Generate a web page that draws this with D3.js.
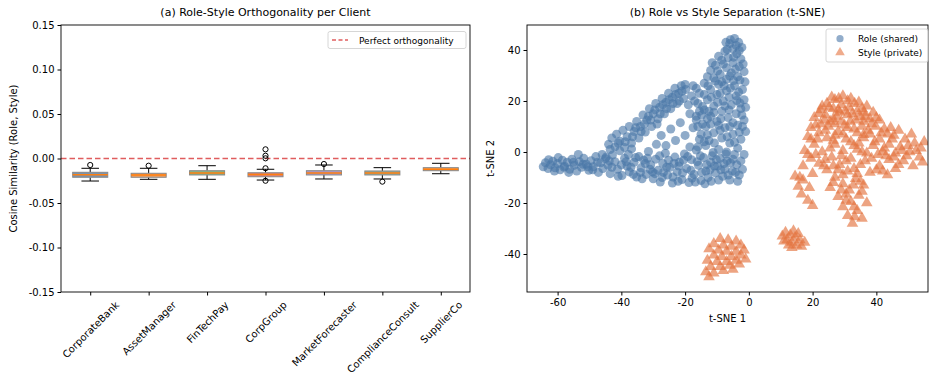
<!DOCTYPE html>
<html><head><meta charset="utf-8">
<script src="https://cdn.jsdelivr.net/npm/d3@7"></script>
<style>body{margin:0;background:#fff}svg{font-family:"DejaVu Sans",sans-serif}</style>
</head><body><svg id="c" width="933" height="381"></svg>
<script>
// ---------- Data: panel (a) ----------
const clients = ["CorporateBank","AssetManager","FinTechPay","CorpGroup","MarketForecaster","ComplianceConsult","SupplierCo"];
const whiskerLow  = [-0.0253,-0.0234,-0.0234,-0.0242,-0.0230,-0.0230,-0.0171];
const q1          = [-0.0211,-0.0211,-0.0185,-0.0205,-0.0185,-0.0185,-0.0137];
const medians     = [-0.0182,-0.0185,-0.0163,-0.0180,-0.0163,-0.0163,-0.0121];
const q3          = [-0.0155,-0.0166,-0.0137,-0.0160,-0.0137,-0.0140,-0.0103];
const whiskerHigh = [-0.0110,-0.0110,-0.0081,-0.0121,-0.0073,-0.0103,-0.0054];
const outliers    = [[-0.0073],[-0.0081],[],[0.0103,0.0031,0.0002,-0.0110,-0.0250],[-0.0062],[-0.0260],[]];
const boxColors   = ["#7b93ad","#f0a064","#86b486","#d88080","#ad98c8","#92ab9a","#e9a568"];
const yTicksA = [0.15,0.10,0.05,0.00,-0.05,-0.10,-0.15];

// ---------- Data: panel (b) ----------
const rolePoints = [
[-64.5,-5.8],[-63.8,-4.2],[-63,-6.5],[-62.2,-5],[-61.5,-3.6],[-60.8,-6.2],[-60,-4.5],[-59.2,-7],[-58.5,-3.2],[-57.8,-5.6],[-57,-4],[-56.2,-6.8],[-55.5,-2.8],[-54.8,-5.2],[-54,-7.5],[-53.2,-3.8],[-52.5,-6],[-51.8,-2.5],[-51,-4.8],[-50.2,-7.2],[-49.5,-3.4],[-48.8,-5.8],[-48,-1.8],[-47.2,-8],[-46.5,-4.2],[-45.8,-6.5],[-45,-2.6],
[-44.2,-5.2],[-43.5,-8.5],[-42.8,-1.2],[-42,-3.8],[-41.2,-6.8],[-40.5,0.5],[-39.8,-9.2],[-39,-2.5],[-38.2,-5.5],[-37.5,-7.8],[-36.8,1.2],[-36,-4],[-35.2,-9.8],[-34.5,-1.8],[-33.8,-6.2],[-33,-3.2],[-32.2,-8.8],[-31.5,0.2],[-30.8,-5],[-30,-10.5],[-29.2,-2.8],[-28.5,-7.2],[-27.8,-11.8],[-27,-4.5],[-26.2,-0.5],[-25.5,-9],[-24.8,-6],[-24,-12.2],[-23.2,-2],[-22.5,-7.8],[-21.8,-4],[-21,-10.8],[-20.2,-0.8],[-19.5,-6.5],[-18.8,-12],[-18,-3],[-17.2,-8.8],[-16.5,0.8],[-15.8,-5.2],[-15,-11.2],[-14.2,-2.2],[-13.5,-7.5],[-12.8,-10],[-12,-4],[-11.2,-0.2],[-10.5,-8.2],[-9.8,-5.5],[-9,-2.5],[-8.2,-9.5],[-7.5,-6.8],[-6.8,-3.5],[-6,-11],[-5.2,-7.5],[-4.5,-1],[-3.8,-5],[-3,-9],
[-62.8,-3],[-59.8,-2.2],[-56.5,-8],[-53.5,-1],[-50.5,-5.8],[-47.5,-4],[-44.8,-2],[-43,-6],[-41,-9.5],[-38.5,-3.8],[-37,-6],[-35.5,-2.2],[-34,-8],[-32.5,-4.5],[-31,-6.8],[-29.5,-8.5],[-28,-1.5],[-26.8,-8],[-25.2,-3.2],[-23.8,-9.8],[-22,-5.5],[-20.8,-8.2],[-19.2,-1.8],[-17.8,-10.2],[-16.2,-3.8],[-14.8,-8],[-13.2,-5],[-11.8,-11.5],[-10.2,-3],[-8.8,-7],[-7.2,-0.8],[-5.8,-4.2],[-4.2,-8],[-2.5,-3.5],
[-61,-7.5],[-58,-6],[-55,-4],[-52,-4.8],[-49,-7],[-46,-1],[-43.8,-3.5],[-40,-5],[-37.8,-1],[-36.2,-8.8],[-33.5,-10.5],[-31.8,-2.5],[-30.2,-7.8],[-27.2,-10],[-25.8,-6],[-23.5,-4.5],[-22.2,-11.5],[-20.5,-3.2],[-18.2,-7.2],[-16.8,-11.8],[-15.2,-1.5],[-13.8,-12.5],[-12.2,-7],[-10.8,-5.5],[-9.5,-11],[-7.8,-4.5],[-6.5,-9],[-5,-2.8],[-3.5,-11.5],[-2,-6.8],
[-44,3],[-43,5.5],[-42,2],[-41.5,7],[-40.5,4.2],[-39.5,8.5],[-39,1.8],[-38.2,6],[-37.5,10],[-36.8,3.5],[-36,8],[-35.2,12],[-34.5,5.5],[-34,10],[-33.2,14.5],[-32.5,7.8],[-32,12.5],[-31.2,17],[-30.5,10],[-30,15],[-29.2,19],[-28.5,13],[-28,17.5],[-27.2,21],[-26.5,15],[-26,19.5],[-25.2,23],[-24.5,17],[-24,21.5],[-23.2,25],[-22.5,19],[-22,23],[-21.2,26],[-20.5,21],[-19.8,24.5],[-19,18.5],
[-43.5,1],[-41,3.5],[-38.8,4],[-36.5,6],[-35.5,9.5],[-33.8,8],[-32.8,11],[-31.5,14],[-30.8,12.5],[-29.5,16.5],[-28.8,11],[-27.8,15],[-27,18.5],[-25.8,17],[-25,20.5],[-23.8,19],[-23,22.5],[-21.8,20],[-21,23.8],[-20,26.5],[-18,22],[-17.5,26],[-18.5,15],[-17,20],
[-29,3],[-27.5,6.5],[-26,2.5],[-24.5,9],[-23,4.5],[-21.5,11.5],[-20,6.5],[-18.5,2],[-17.5,9.5],[-16.5,14],[-15.5,5],[-14.5,11],[-13.5,2.5],[-12.5,16],
[-4.5,44.5],[-3.2,43],[-6,42.5],[-2.2,41],[-5,40.5],[-7.5,39.5],[-3.8,38.5],[-6.5,37],[-2.5,36.5],[-8.5,36],[-5,35],
[-10.5,34],[-3,33.5],[-7,33],[-12,32],[-1.5,31.5],[-5.5,31],[-9,30.5],[-3.5,29.5],[-11,29],[-7,28.5],[-1.2,27.5],
[-14,27],[-9.5,26.5],[-4.5,26],[-2,24.5],[-12,24.5],[-7,24],[-15.5,23],[-10,22.5],[-4,22],[-1.5,20.5],[-13,20.5],[-8,20],[-5.5,18.5],[-16,19],[-11,18],
[-2.5,17],[-14,16.5],[-8.5,16],[-4,15],[-12,14],[-6.5,13.5],[-16.5,12.5],[-1.5,12.5],[-10,12],[-3.5,10.5],[-13.5,10],[-7.5,9.5],[-1,8],[-11,7.5],[-5,7],[-15,7],[-8.5,5.5],[-2.5,5],[-12.5,4.5],[-6,3.5],[-3.5,1.5],[-9.5,1],[-1.5,-1],[-7,0],
[-5.8,44],[-4,41.8],[-6.8,40.2],[-4.8,37.2],[-8,34.5],[-4.2,32.5],[-9.8,31.8],[-6,29.8],[-2.8,28.2],[-8.5,27.5],[-12.8,26],[-5.8,25],[-3.2,23.5],[-9,23],[-6.2,21.5],[-11.8,21.5],[-2.8,19.2],[-9.8,19.5],[-14.5,17.8],[-6.2,16.5],[-11,15.5],[-2.2,14.5],[-8.8,13],[-14.8,14.5],[-5,11.5],[-12,11],[-9,8.5],[-3,7.8],[-13,6.8],[-6.8,6],[-10.8,3.5],[-4.5,3.8],
[-7.2,43],[-3,39.8],[-9.5,37.5],[-1.8,34.5],[-11.5,35],[-13,29.5],[-4.8,28],[-10.5,27.8],[-16.5,25],[-7.8,26],[-14,22.5],[-3.8,20.2],[-15.5,16],[-7.5,18],[-1,17.5],[-16,10],[-13,13],[-6,10],[-9.5,10.5],[-2,10],[-14,4],[-16,2],[-11.5,-1.5]
];
const stylePoints = [
[29.5,22],[27,20.5],[32,21],[34.5,19.5],[24.5,19],[29,18.5],[37,18],[31.5,17.5],[26.5,17],[22.5,16.5],[34,16],[39,15.5],[28.5,15.5],[24,14.5],[31,14.5],[36.5,14],[20.5,13.5],[26.5,13],[33.5,12.5],[41,12.5],[29,12],[22.5,11],[38.5,11],[35.5,10],[25,10],[31,9.5],[19.5,9.5],[42.5,9],[28,8],[34,7.5],[22,7.5],[38,7],
[18.5,6],[24.5,5.5],[30.5,5],[36,5.5],[41,5],[45.5,6.5],[49,5],[52,3.5],[20.5,3],[27,3],[33,2.5],[39,2.5],[44,3],[47.5,2],[54,1.5],[17.5,0.5],[23,0],[29.5,0.5],[35.5,0],[42,0],[46,-0.5],[50.5,0],[53.5,-2],[19.5,-2.5],[26,-2],[32,-2.5],[38.5,-2.5],[44,-3],[48.5,-3.5],[51.5,-5.5],[22,-4.5],[28.5,-5],[35,-5],[41,-5.5],[46,-6.5],[17,-5.5],[24.5,-7],[31,-7.5],[38,-8],[43.5,-9],[20,-8.5],[54.5,-4],
[47,8.5],[51,7],[44.5,9.5],[55,4],
[27,-10],[33.5,-10.5],[29.5,-12.5],[36,-13],[25.5,-14],[31.5,-15],[34.5,-17],[28,-17.5],[32,-19.5],[37,-20],[29.5,-21.5],[34,-23],[31,-25],[35.5,-26],[32.5,-28],
[14.5,-9.5],[17,-11],[15.5,-13.5],[19,-14],[16.5,-16.5],[18.5,-19],[20,-21],[16,-10],
[26,21.5],[31,20],[35.5,17],[23,18],[28,16.5],[32.5,15],[25.5,12],[30,10.5],[36,12],[40,13.5],[21,10.5],[33,9],[27,6.5],[37.5,8.5],[43.5,7],[21.5,5],[32,4],[39.5,4],[25.5,1.5],[34,1],[40.5,-1],[48,0.5],[21,-1],[30.5,-3.5],[36.5,-3.5],[45.5,-2],[26.5,-5.5],[33,-6.5],[40,-7],[29.5,-9],[35,-11.5],[30.5,-16.5],[33,-21.5],
[28.2,21],[33.2,19],[25.2,17.5],[30.2,16],[36.2,15.5],[22,15],[27.5,14],[34.8,13.8],[38,13],[23.8,12.5],[31.8,12],[27,11],[39.8,10],[24,8.5],[29.5,7],[36,6.8],[41.5,7.5],[19.5,5],[26.5,4.5],[34.5,3.5],[42.5,1.5],[50,2.5],[45,5],[52.5,0.5],[18.5,-1],[24,-3],[29,-1.5],[37,-0.5],[43,-1.5],[49.5,-1.5],[47,-5],[23.5,-5.5],[34,-8.5],[28,-7],[42,-7.5],[26.5,-12],[32.8,-13],[29,-15],[35.5,-15.5],[33.2,-25.5],[30.5,-19],
[10.5,-33],[11.5,-31.5],[12,-34.5],[13,-32.5],[13.5,-35.5],[14.5,-33.5],[15,-36.5],[16,-34.5],[16.5,-37],[12.5,-36.5],[11,-35],[14,-31],[15.5,-32],[17.5,-35.5],[13.5,-37.5],
[-9,-34],[-6.5,-34.5],[-4,-35],[-11,-36],[-8,-36.5],[-5.5,-37],[-2.5,-36.5],[-12.5,-38],[-9.5,-38.5],[-7,-39],[-4,-39],[-1.5,-38.5],[-11,-40.5],[-8.5,-41],[-5.5,-41],[-2.5,-40.5],[-13,-42.5],[-10,-43],[-7,-43],[-4,-42.5],[-1,-42],[-12,-45],[-9,-45],[-6,-44.5],[-3,-44],[-13.5,-47],[-11,-47.5],[-8,-46.5],[-12.5,-49],[-5,-46]
];
const xTicksB = [-60,-40,-20,0,20,40];
const yTicksB = [-40,-20,0,20,40];

const svg = d3.select("#c");
const fmt2 = d => d.toFixed(2);

function frame(g, x0, x1, y0, y1){
  g.append("rect").attr("x",x0).attr("y",y0).attr("width",x1-x0).attr("height",y1-y0)
   .attr("fill","none").attr("stroke","#000").attr("stroke-width",0.9);
}

// ---------- Panel (a) ----------
const A = {l:61, r:470, t:25, b:292};
const xA = d3.scaleLinear().domain([0.5,7.5]).range([A.l,A.r]);
const yA = d3.scaleLinear().domain([-0.15,0.15]).range([A.b,A.t]);
const gA = svg.append("g");

const yAxA = gA.append("g").attr("transform",`translate(${A.l},0)`)
  .call(d3.axisLeft(yA).tickValues(yTicksA).tickFormat(d=>fmt2(d)).tickSize(3.5).tickPadding(3));
yAxA.select(".domain").remove();
yAxA.selectAll("text").attr("font-size",10).attr("fill","#000").attr("font-family","DejaVu Sans");

const xAxA = gA.append("g").attr("transform",`translate(0,${A.b})`)
  .call(d3.axisBottom(xA).tickValues(d3.range(1,8)).tickFormat(i=>clients[i-1]).tickSize(3.5));
xAxA.select(".domain").remove();
xAxA.selectAll("text").attr("font-size",10).attr("fill","#000").attr("font-family","DejaVu Sans")
  .attr("text-anchor","middle").attr("dy","0.35em")
  .each(function(){
    const w = this.getComputedTextLength(), h = 11.5;
    const cy = 7 + (w + h) * Math.SQRT1_2 / 2;
    d3.select(this).attr("y",0).attr("x",0).attr("transform",`translate(0,${cy}) rotate(-45)`);
  });

gA.append("line").attr("x1",A.l).attr("x2",A.r).attr("y1",yA(0)).attr("y2",yA(0))
  .attr("stroke","#d62728").attr("stroke-opacity",0.75).attr("stroke-width",1.5).attr("stroke-dasharray","5.5,3");

const bw = 0.6;
clients.forEach((c,i)=>{
  const xc = xA(i+1), hw = (xA(i+1+bw/2)-xc), cw = hw/2;
  const g = gA.append("g");
  g.append("line").attr("x1",xc).attr("x2",xc).attr("y1",yA(whiskerLow[i])).attr("y2",yA(q1[i])).attr("stroke","#000").attr("stroke-width",1);
  g.append("line").attr("x1",xc).attr("x2",xc).attr("y1",yA(q3[i])).attr("y2",yA(whiskerHigh[i])).attr("stroke","#000").attr("stroke-width",1);
  [whiskerLow[i],whiskerHigh[i]].forEach(v=>g.append("line").attr("x1",xc-cw).attr("x2",xc+cw).attr("y1",yA(v)).attr("y2",yA(v)).attr("stroke","#000").attr("stroke-width",1));
  g.append("rect").attr("x",xc-hw).attr("width",2*hw).attr("y",yA(q3[i])).attr("height",yA(q1[i])-yA(q3[i]))
    .attr("fill",boxColors[i]).attr("stroke","#888").attr("stroke-width",1);
  g.append("line").attr("x1",xc-hw).attr("x2",xc+hw).attr("y1",yA(medians[i])).attr("y2",yA(medians[i])).attr("stroke","#ff7f0e").attr("stroke-width",1.6);
  outliers[i].forEach(v=>g.append("circle").attr("cx",xc).attr("cy",yA(v)).attr("r",2.6).attr("fill","none").attr("stroke","#000").attr("stroke-width",1));
});
frame(gA, A.l, A.r, A.t, A.b);

gA.append("text").attr("x",(A.l+A.r)/2).attr("y",16).attr("text-anchor","middle").attr("font-size",11).text("(a) Role-Style Orthogonality per Client");
gA.append("text").attr("transform",`translate(17,${(A.t+A.b)/2}) rotate(-90)`).attr("text-anchor","middle").attr("font-size",10).text("Cosine Similarity (Role, Style)");

const lgA = gA.append("g");
lgA.append("rect").attr("x",328).attr("y",31.5).attr("width",138).attr("height",17).attr("rx",2)
  .attr("fill","#fff").attr("fill-opacity",0.8).attr("stroke","#ccc").attr("stroke-width",0.8);
lgA.append("line").attr("x1",332).attr("x2",348).attr("y1",40).attr("y2",40)
  .attr("stroke","#d62728").attr("stroke-opacity",0.75).attr("stroke-width",1.5).attr("stroke-dasharray","4,2.5");
lgA.append("text").attr("x",359).attr("y",43.5).attr("font-size",9).text("Perfect orthogonality");

// ---------- Panel (b) ----------
const B = {l:527, r:928, t:25, b:292};
const xB = d3.scaleLinear().domain([-69.6,56.2]).range([B.l,B.r]);
const yB = d3.scaleLinear().domain([-54.9,49.8]).range([B.b,B.t]);
const gB = svg.append("g");
svg.append("clipPath").attr("id","clipB").append("rect").attr("x",B.l).attr("y",B.t).attr("width",B.r-B.l).attr("height",B.b-B.t);

const xAxB = gB.append("g").attr("transform",`translate(0,${B.b})`)
  .call(d3.axisBottom(xB).tickValues(xTicksB).tickFormat(d=>String(d)).tickSize(3.5).tickPadding(3));
xAxB.select(".domain").remove();
xAxB.selectAll("text").attr("font-size",10).attr("fill","#000").attr("font-family","DejaVu Sans");
const yAxB = gB.append("g").attr("transform",`translate(${B.l},0)`)
  .call(d3.axisLeft(yB).tickValues(yTicksB).tickFormat(d=>String(d)).tickSize(3.5).tickPadding(3));
yAxB.select(".domain").remove();
yAxB.selectAll("text").attr("font-size",10).attr("fill","#000").attr("font-family","DejaVu Sans");

const pts = gB.append("g").attr("clip-path","url(#clipB)");
pts.selectAll("circle.role").data(rolePoints).join("circle").attr("class","role")
  .attr("cx",d=>xB(d[0])).attr("cy",d=>yB(d[1])).attr("r",4.5)
  .attr("fill","#4a77a8").attr("fill-opacity",0.62);
const tri = d3.symbol().type(d3.symbolTriangle).size(58);
pts.selectAll("path.style").data(stylePoints).join("path").attr("class","style")
  .attr("d",tri).attr("transform",d=>`translate(${xB(d[0])},${yB(d[1])})`)
  .attr("fill","#e4733f").attr("fill-opacity",0.65);

frame(gB, B.l, B.r, B.t, B.b);
gB.append("text").attr("x",(B.l+B.r)/2).attr("y",16).attr("text-anchor","middle").attr("font-size",11).text("(b) Role vs Style Separation (t-SNE)");
gB.append("text").attr("x",(B.l+B.r)/2).attr("y",322).attr("text-anchor","middle").attr("font-size",10).text("t-SNE 1");
gB.append("text").attr("transform",`translate(494,${(B.t+B.b)/2}) rotate(-90)`).attr("text-anchor","middle").attr("font-size",10).text("t-SNE 2");

const lgB = gB.append("g");
lgB.append("rect").attr("x",826).attr("y",29).attr("width",102).attr("height",33).attr("rx",2)
  .attr("fill","#fff").attr("fill-opacity",0.8).attr("stroke","#ccc").attr("stroke-width",0.8);
lgB.append("circle").attr("cx",840).attr("cy",38.7).attr("r",3.6).attr("fill","#4a77a8").attr("fill-opacity",0.6);
lgB.append("path").attr("d",d3.symbol().type(d3.symbolTriangle).size(40)).attr("transform","translate(840,52.5)")
  .attr("fill","#e4733f").attr("fill-opacity",0.6);
lgB.append("text").attr("x",858).attr("y",42).attr("font-size",9).text("Role (shared)");
lgB.append("text").attr("x",858).attr("y",56).attr("font-size",9).text("Style (private)");
</script></body></html>
